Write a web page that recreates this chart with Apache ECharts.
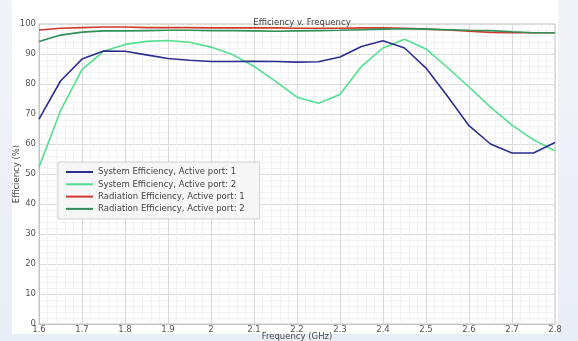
<!DOCTYPE html>
<html>
<head>
<meta charset="utf-8">
<script src="https://cdn.jsdelivr.net/npm/echarts@6/dist/echarts.min.js"></script>
<style>
  html, body { margin: 0; padding: 0; }
  body { width: 578px; height: 341px; background: linear-gradient(180deg, #f1f3f8 0%, #e9edf5 100%); position: relative; overflow: hidden; }
  #panel { position: absolute; left: 12px; top: 0; width: 546px; height: 334px; background: #ffffff; }
  #chart { position: absolute; left: 0; top: 0; width: 578px; height: 341px; }
</style>
</head>
<body>
<div id="panel"></div>
<div id="chart"></div>
<script>
// Frequency sweep (GHz)
const freqGHz = [1.6, 1.65, 1.7, 1.75, 1.8, 1.85, 1.9, 1.95, 2.0, 2.05, 2.1, 2.15, 2.2,
                 2.25, 2.3, 2.35, 2.4, 2.45, 2.5, 2.55, 2.6, 2.65, 2.7, 2.75, 2.8];

// Efficiency (%) per port
const systemEffPort1 = [68.3, 81.0, 88.3, 91.0, 90.9, 89.7, 88.5, 87.9, 87.5, 87.5, 87.6, 87.5, 87.3,
                        87.4, 89.0, 92.5, 94.4, 92.0, 85.3, 75.9, 66.1, 60.0, 57.0, 57.0, 60.5];
const systemEffPort2 = [52.3, 71.1, 84.8, 90.9, 93.2, 94.2, 94.5, 93.9, 92.3, 89.8, 85.9, 80.9, 75.6,
                        73.6, 76.5, 85.9, 92.0, 94.9, 91.7, 85.5, 79.0, 72.3, 66.3, 61.4, 57.7];
const radiationEffPort1 = [98.0, 98.6, 98.8, 99.0, 99.0, 98.8, 98.8, 98.8, 98.7, 98.7, 98.7, 98.7, 98.6,
                           98.6, 98.6, 98.7, 98.7, 98.6, 98.3, 98.0, 97.6, 97.2, 97.1, 97.1, 97.1];
const radiationEffPort2 = [94.2, 96.3, 97.3, 97.7, 97.7, 97.8, 97.9, 97.9, 97.8, 97.8, 97.7, 97.6, 97.7,
                           97.8, 97.9, 98.1, 98.3, 98.4, 98.3, 98.1, 97.9, 97.8, 97.4, 97.1, 97.1];

const seriesNames = [
  'System Efficiency, Active port: 1',
  'System Efficiency, Active port: 2',
  'Radiation Efficiency, Active port: 1',
  'Radiation Efficiency, Active port: 2'
];
const seriesValues = [systemEffPort1, systemEffPort2, radiationEffPort1, radiationEffPort2];
const seriesColors = ['#2c2e8e', '#52df90', '#cf3a30', '#2f9058'];

const fontFamily = 'DejaVu Sans';
const chart = echarts.init(document.getElementById('chart'), null, { renderer: 'canvas' });

chart.setOption({
  animation: false,
  backgroundColor: 'transparent',
  textStyle: { fontFamily: fontFamily },
  title: {
    text: 'Efficiency v. Frequency',
    left: 297,
    top: 13,
    textAlign: 'center',
    textStyle: { fontFamily: fontFamily, fontSize: 8.5, fontWeight: 'normal', color: '#444' }
  },
  grid: {
    left: 39, right: 23, top: 24, bottom: 17,
    outerBoundsMode: 'none',
    containLabel: false,
    show: true, borderColor: '#c4c4c4', borderWidth: 1, backgroundColor: '#fff'
  },
  legend: {
    orient: 'vertical',
    left: 58,
    top: 162,
    padding: [5, 15, 5, 8],
    icon: 'rect',
    itemWidth: 27,
    itemHeight: 2,
    itemGap: 2.3,
    backgroundColor: '#f6f6f6',
    borderColor: '#d0d0d0',
    borderWidth: 1,
    textStyle: { fontFamily: fontFamily, fontSize: 8.5, color: '#444', lineHeight: 10 },
    data: seriesNames
  },
  xAxis: {
    type: 'value',
    min: 1.6,
    max: 2.8,
    interval: 0.1,
    name: 'Frequency (GHz)',
    nameLocation: 'middle',
    nameGap: 8,
    nameMoveOverlap: false,
    nameTextStyle: { fontFamily: fontFamily, fontSize: 8.5, color: '#444' },
    axisLine: { show: true, lineStyle: { color: '#c4c4c4' } },
    axisTick: { show: false },
    axisLabel: { margin: 1, fontSize: 8.5, color: '#555', fontFamily: fontFamily,
                 showMinLabel: true, showMaxLabel: true },
    splitLine: { show: true, lineStyle: { color: '#dadada', width: 1 } },
    minorTick: { show: false, splitNumber: 5 },
    minorSplitLine: { show: true, lineStyle: { color: '#f2f2f2', width: 1 } }
  },
  yAxis: {
    type: 'value',
    min: 0,
    max: 100,
    interval: 10,
    name: 'Efficiency (%)',
    nameLocation: 'middle',
    nameGap: 18,
    nameMoveOverlap: false,
    nameTextStyle: { fontFamily: fontFamily, fontSize: 8.5, color: '#444' },
    axisLine: { show: true, lineStyle: { color: '#c4c4c4' } },
    axisTick: { show: false },
    axisLabel: { margin: 3, fontSize: 8.5, color: '#555', fontFamily: fontFamily },
    splitLine: { show: true, lineStyle: { color: '#dadada', width: 1 } },
    minorTick: { show: false, splitNumber: 5 },
    minorSplitLine: { show: true, lineStyle: { color: '#f2f2f2', width: 1 } }
  },
  series: seriesNames.map((name, i) => ({
    name: name,
    type: 'line',
    symbol: 'none',
    showSymbol: false,
    z: i === 0 ? 6 : 5,
    color: seriesColors[i],
    itemStyle: { color: seriesColors[i] },
    lineStyle: { width: 1.6, color: seriesColors[i] },
    data: freqGHz.map((f, k) => [f, seriesValues[i][k]])
  }))
});
</script>
</body>
</html>
